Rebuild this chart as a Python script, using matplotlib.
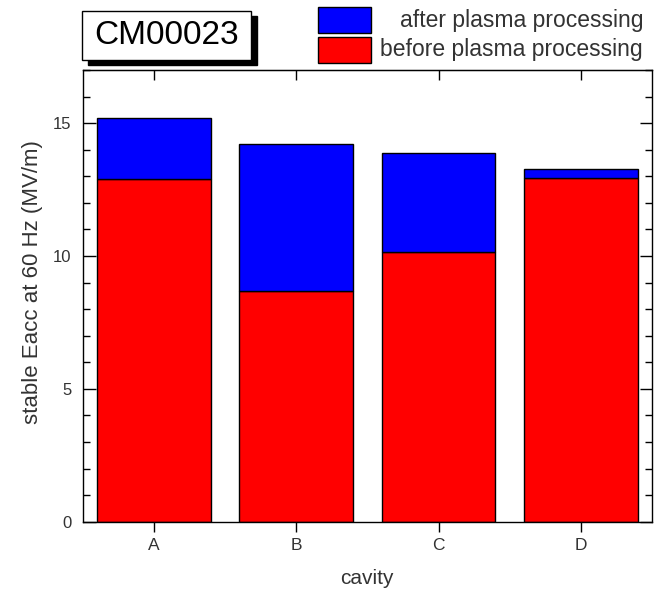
import matplotlib

matplotlib.use("Agg")
import matplotlib.pyplot as plt
from matplotlib.patches import Rectangle
from matplotlib.ticker import MultipleLocator

plt.rcParams["font.family"] = ["Liberation Sans", "DejaVu Sans"]

# data
cavities = ["A", "B", "C", "D"]
before = [12.9, 8.7, 10.15, 12.95]   # stable Eacc before plasma processing
after = [15.18, 14.2, 13.88, 13.27]  # stable Eacc after plasma processing
labels = ["after plasma processing", "before plasma processing"]
colors = ["#0000ff", "#ff0000"]
title = "CM00023"

TXT = "#333333"
W, H = 654, 591

fig = plt.figure(figsize=(W / 100, H / 100), dpi=100)
ax = fig.add_axes([82.7 / W, 1 - 521.7 / H, (652 - 82.7) / W, (521.7 - 70) / H])

x = range(len(cavities))
gain = [a - b for a, b in zip(after, before)]
ax.bar(x, before, width=0.8, color=colors[1], edgecolor="black", linewidth=1.0)
ax.bar(x, gain, bottom=before, width=0.8, color=colors[0],
       edgecolor="black", linewidth=1.0)

ax.set_xlim(-0.5, 3.5)
ax.set_ylim(0, 17)
ax.set_xticks(list(x))
ax.set_xticklabels(cavities)
ax.yaxis.set_major_locator(MultipleLocator(5))
ax.yaxis.set_minor_locator(MultipleLocator(1))
ax.tick_params(axis="y", which="both", direction="in", left=True, right=True,
               labelsize=12, labelcolor=TXT, pad=8)
ax.tick_params(axis="y", which="major", length=9, width=1.0)
ax.tick_params(axis="y", which="minor", length=5, width=1.0)
ax.tick_params(axis="x", direction="out", length=7, width=1.0,
               labelsize=12.5, labelcolor=TXT, pad=5)
top = ax.secondary_xaxis("top")
top.set_xticks(list(x))
top.tick_params(direction="in", length=7, width=1.0, labeltop=False)
for s in ax.spines.values():
    s.set_linewidth(1.0)

ax.set_xlabel("cavity", fontsize=15, color=TXT, labelpad=11)
ax.set_ylabel("stable Eacc at 60 Hz (MV/m)", fontsize=16, color=TXT)
ax.yaxis.set_label_coords(-0.07, 0.53)

# title box with drop shadow
bx0, bx1, by0, by1 = 81.6, 251, 11, 60
fig.add_artist(Rectangle(((bx0 + 6) / W, 1 - (by1 + 5) / H), (bx1 - bx0) / W,
                         (by1 - by0) / H, transform=fig.transFigure,
                         facecolor="black", edgecolor="black"))
fig.add_artist(Rectangle((bx0 / W, 1 - by1 / H), (bx1 - bx0) / W,
                         (by1 - by0) / H, transform=fig.transFigure,
                         facecolor="white", edgecolor="black", linewidth=1.0))
fig.text((bx0 + bx1) / 2 / W, 1 - 36 / H, title, fontsize=24,
         ha="center", va="center", color="black")

# legend, text right-aligned next to swatches
for i, (lab, col) in enumerate(zip(labels, colors)):
    y0 = 7 + i * 29.5
    fig.add_artist(Rectangle((317.6 / W, 1 - (y0 + 26) / H), 53 / W, 26 / H,
                             transform=fig.transFigure, facecolor=col,
                             edgecolor="black", linewidth=1.0))
    fig.text(643 / W, 1 - (y0 + 13) / H, lab, fontsize=16.5, ha="right",
             va="center", color=TXT)

fig.savefig("out.png", dpi=100)
